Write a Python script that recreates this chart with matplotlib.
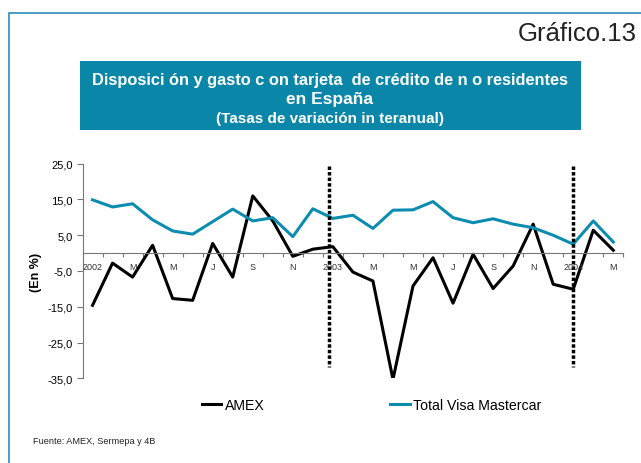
import matplotlib.pyplot as plt
from matplotlib.patches import Rectangle

plt.rcParams['font.family'] = ['Liberation Sans', 'DejaVu Sans']

# monthly observations, Jan 2002 - Mar 2004
amex = [-14.6, -2.8, -6.7, 2.2, -12.7, -13.2, 2.7, -6.7, 16.0, 9.0, -0.9, 1.1,
        1.8, -5.3, -7.8, -35.3, -9.2, -1.3, -14.0, -0.3, -9.9, -3.6, 8.1, -8.7,
        -10.1, 6.4, 0.8]
visa = [14.9, 12.9, 13.8, 9.3, 6.2, 5.3, 8.8, 12.3, 9.0, 9.9, 4.6, 12.4,
        9.7, 10.6, 6.9, 12.0, 12.1, 14.4, 9.9, 8.5, 9.6, 8.1, 7.1, 5.0,
        2.5, 9.0, 3.1]
month_labels = ['2002', 'M', 'M', 'J', 'S', 'N',
                '2003', 'M', 'M', 'J', 'S', 'N',
                '2004', 'M']
year_breaks = [11.8, 24.0]
y_ticks = [25, 15, 5, -5, -15, -25, -35]

TEAL = '#0c8db0'
BOX = '#0a87a8'

fig = plt.figure(figsize=(6.41, 4.64), dpi=100)

# outer frame (only top and left edges fall inside the picture)
fig.patches.append(Rectangle((9 / 641, -0.1), 1.2, 1.1 - 14 / 464,
                             transform=fig.transFigure, fill=False,
                             edgecolor='#2a8bbf', linewidth=1.2))

fig.text(637 / 641, 1 - 41 / 464, 'Gráfico.13', ha='right', va='baseline',
         fontsize=18.5, color='#222222')

# title box
fig.patches.append(Rectangle((80 / 641, 1 - 131 / 464), 501 / 641, 69 / 464,
                             transform=fig.transFigure, facecolor=BOX,
                             edgecolor='none'))
cx = 330 / 641
fig.text(cx, 1 - 80 / 464, 'Disposici ón y gasto c on tarjeta  de crédito de n o residentes',
         ha='center', va='center', color='white', fontsize=11.8, fontweight='bold')
fig.text(cx, 1 - 99.5 / 464, 'en España', ha='center', va='center', color='white',
         fontsize=12.5, fontweight='bold')
fig.text(cx, 1 - 119.5 / 464, '(Tasas de variación in teranual)', ha='center', va='center',
         color='white', fontsize=11, fontweight='bold')

ax = fig.add_axes([82.5 / 641, 1 - 379.3 / 464, (623.3 - 82.5) / 641, (379.3 - 164.7) / 464])
x = list(range(len(amex)))
ax.plot(x, amex, color='black', linewidth=2.2, label='AMEX')
ax.plot(x, visa, color=TEAL, linewidth=2.2, label='Total Visa Mastercar')

for xb in year_breaks:
    ax.plot([xb, xb], [24.3, -31.9], color='black', linewidth=2.5,
            linestyle=(0, (1, 0.6)))

ax.set_xlim(-0.5, 26.5)
ax.set_ylim(-35, 25)
ax.set_yticks(y_ticks)
ax.set_yticklabels([f'{v:.1f}'.replace('.', ',') for v in y_ticks], fontsize=8)
ax.tick_params(axis='y', length=4, color='#777777', pad=3)

ax.spines['top'].set_visible(False)
ax.spines['right'].set_visible(False)
ax.spines['left'].set_color('#777777')
ax.spines['bottom'].set_position(('data', 0))
ax.spines['bottom'].set_color('#777777')
ax.spines['bottom'].set_linewidth(0.8)

ax.set_xticks([i + 0.5 for i in range(-1, 27)])
ax.set_xticklabels([])
ax.tick_params(axis='x', length=3, color='#777777', direction='out')
for i, lab in enumerate(month_labels):
    ax.text(2 * i, -2.5, lab, ha='center', va='top', fontsize=6.5, color='#333333')

ax.set_ylabel('(En %)', fontsize=9, fontweight='bold', labelpad=4)

fig.legend(loc='center', bbox_to_anchor=(371.7 / 641, 1 - 406 / 464), ncol=2,
           frameon=False, fontsize=10.2, handlelength=1.35, handletextpad=0.25,
           columnspacing=8.9)

fig.text(33 / 641, 1 - 442 / 464, 'Fuente: AMEX, Sermepa y 4B', ha='left', va='center',
         fontsize=6.6, color='#222222')

fig.savefig('out.png', dpi=100)
